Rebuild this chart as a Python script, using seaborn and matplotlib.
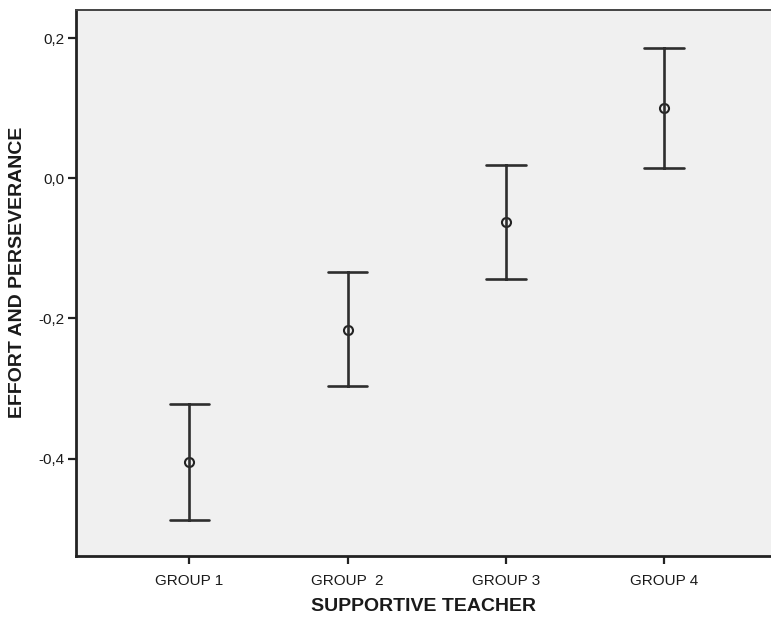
import matplotlib
matplotlib.use("Agg")
import matplotlib.pyplot as plt
import seaborn as sns
import pandas as pd
import numpy as np

groups = ["GROUP 1", "GROUP  2", "GROUP 3", "GROUP 4"]
means = [-0.405, -0.216, -0.062, 0.100]
lower = [-0.488, -0.297, -0.144, 0.015]
upper = [-0.322, -0.134, 0.019, 0.186]
yticks = [-0.4, -0.2, 0.0, 0.2]
ytick_labels = ["-0,4", "-0,2", "0,0", "0,2"]

rows = []
for g, lo, m, hi in zip(groups, lower, means, upper):
    for v in (lo, m, hi):
        rows.append({"group": g, "value": v})
df = pd.DataFrame(rows)

sns.set_theme(style="white")
plt.rcParams["font.family"] = ["Liberation Sans", "DejaVu Sans"]

fig = plt.figure(figsize=(7.71, 6.19), dpi=100)
ax = fig.add_axes([76 / 771, 1 - 556 / 619, (771 - 76) / 771, (556 - 10) / 619])
ax.set_facecolor("#f0f0f0")

sns.pointplot(
    data=df, x="group", y="value", order=groups,
    estimator=np.median,
    errorbar=lambda x: (np.min(x), np.max(x)),
    linestyle="none", marker="o", color="#2a2a2a",
    markersize=6.5, markerfacecolor="none", markeredgecolor="#222222",
    markeredgewidth=1.5,
    capsize=0.25,
    err_kws={"linewidth": 1.9, "color": "#2e2e2e"},
    ax=ax,
)

ax.set_xlim(-0.716, 3.676)
ax.set_ylim(-0.539, 0.240)
ax.set_yticks(yticks)
ax.set_yticklabels(ytick_labels)

for side in ["left", "bottom"]:
    ax.spines[side].set_color("#222222")
    ax.spines[side].set_linewidth(2.0)
ax.spines["top"].set_color("#444444")
ax.spines["top"].set_linewidth(1.4)
ax.spines["right"].set_visible(False)

ax.tick_params(axis="both", which="major", direction="out", length=6, width=1.6,
               color="#222222", labelsize=11, labelcolor="#1a1a1a",
               left=True, bottom=True)
ax.tick_params(axis="x", pad=7)
ax.tick_params(axis="y", pad=2)

ax.set_xlabel("SUPPORTIVE TEACHER", fontsize=14, fontweight="bold", color="#1a1a1a", labelpad=7)
ax.set_ylabel("EFFORT AND PERSEVERANCE", fontsize=14, fontweight="bold", color="#1a1a1a", labelpad=3)
ax.yaxis.set_label_coords(-0.072, 0.52)

fig.savefig("out.png", dpi=100)
